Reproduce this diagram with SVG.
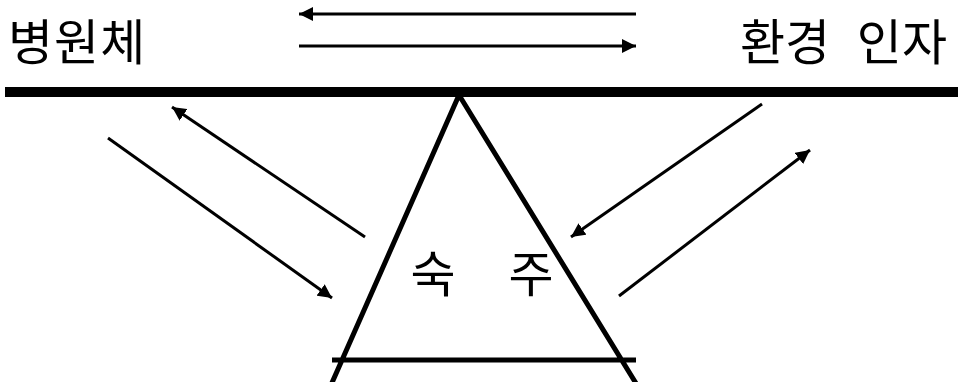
<svg xmlns="http://www.w3.org/2000/svg" width="961" height="382" viewBox="0 0 961 382">
<style>
.lbl{font-family:"Noto Sans CJK KR","Noto Sans",sans-serif;font-size:49px;fill:#000}
.arr{stroke:#000;stroke-width:3;fill:none;marker-end:url(#ah)}
.edge{stroke:#000;stroke-width:5;fill:none}
</style>
<defs>
<marker id="ah" markerUnits="userSpaceOnUse" markerWidth="16" markerHeight="14" refX="14" refY="7" orient="auto">
<path d="M0,0 L14,7 L0,14 Z" fill="#000"/>
</marker>
</defs>
<rect width="961" height="382" fill="#fff"/>
<g id="beam"><rect x="5" y="87" width="953" height="10" fill="#000"/></g>
<g id="host">
<path class="edge" d="M459,95 L331,385 M459,95 L637,385 M332,360 L636,360"/>
<text class="lbl" x="433" y="292" text-anchor="middle">숙</text>
<text class="lbl" x="531" y="292" text-anchor="middle">주</text>
</g>
<g id="pathogen"><text class="lbl" x="8" y="60" letter-spacing="1">병원체</text></g>
<g id="env"><text class="lbl" x="740" y="60">환경</text><text class="lbl" x="947" y="60" text-anchor="end">인자</text></g>
<g id="connectors">
<line class="arr" x1="636" y1="14" x2="299" y2="14"/>
<line class="arr" x1="299" y1="46" x2="636" y2="46"/>
<line class="arr" x1="365" y1="237" x2="172" y2="107"/>
<line class="arr" x1="108" y1="138" x2="332" y2="298"/>
<line class="arr" x1="762" y1="104" x2="571" y2="237"/>
<line class="arr" x1="619" y1="296" x2="810" y2="150"/>
</g>
</svg>
